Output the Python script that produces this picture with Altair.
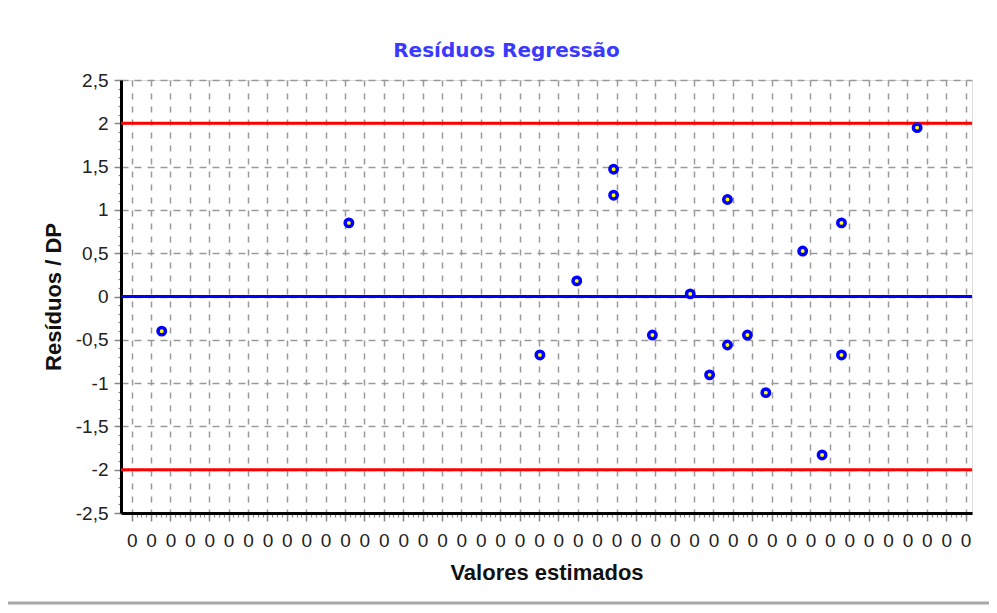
import altair as alt
import pandas as pd

# Data (x in tick-step units, y = residual / SD)
x_vals = [1.55, 11.2, 21.05, 22.95, 24.85, 24.85, 26.85, 28.8, 29.8, 30.72, 30.72, 31.75, 32.7, 34.6, 35.6, 36.6, 36.6, 40.5]
y_vals = [-0.40, 0.85, -0.675, 0.18, 1.47, 1.17, -0.445, 0.03, -0.905, 1.12, -0.56, -0.445, -1.11, 0.525, -1.83, 0.85, -0.675, 1.95]

x_ticks = list(range(44))                       # 44 labels, all shown as "0"
x_minor = [i * 0.25 for i in range(0, 173)]
y_ticks = [-2.5, -2, -1.5, -1, -0.5, 0, 0.5, 1, 1.5, 2, 2.5]
y_minor = [round(-2.5 + i * 0.1, 2) for i in range(51)]
limit_vals = [-2, 2]
zero_vals = [0]

W, H = 851, 433
FONT = "Liberation Sans"

pts = pd.DataFrame({"x": x_vals, "y": y_vals})
limits = pd.DataFrame({"y": limit_vals})
zeros = pd.DataFrame({"y": zero_vals})

xs = alt.Scale(domain=[-0.55, 43.33], nice=False, zero=False)
ys = alt.Scale(domain=[-2.5, 2.5], nice=False, zero=False)

grid_color = "#9a9a9a"

x_axis = alt.Axis(
    values=x_ticks, labelExpr="'0'", grid=True, gridColor=grid_color, gridDash=[6, 7],
    gridWidth=1.5, tickSize=8, tickColor="#888888", tickWidth=1.5, domainColor="#000000",
    domainWidth=3, labelFont=FONT, labelFontSize=19, labelColor="#222222", labelPadding=10,
    title="Valores estimados", titleFont=FONT, titleFontSize=22, titleFontWeight="bold",
    titleColor="#111111", titleY=59, titleBaseline="middle", orient="bottom", labelFlush=False,
    labelOverlap=False,
)
y_axis = alt.Axis(
    values=y_ticks, labelExpr="replace(toString(datum.value), '.', ',')", grid=True,
    gridColor=grid_color, gridDash=[7, 6], gridWidth=1.5, tickSize=7, tickColor="#888888",
    tickWidth=1.5, domainColor="#000000", domainWidth=3, labelFont=FONT, labelFontSize=19,
    labelColor="#222222", labelPadding=6, title="Resíduos / DP", titleFont=FONT,
    titleFontSize=22, titleFontWeight="bold", titleColor="#111111", titleX=-68,
    titleY=H / 2, titleAlign="center", titleBaseline="middle", titleAngle=-90, orient="left",
    labelFlush=False, labelOverlap=False,
)

main_pts = alt.Chart(pts).mark_circle(
    size=55, fill="#ffff00", stroke="#0000ff", strokeWidth=3.5, opacity=1
).encode(
    x=alt.X("x:Q", scale=xs, axis=x_axis),
    y=alt.Y("y:Q", scale=ys, axis=y_axis),
)

minor_ax = alt.Chart(pts).mark_point(opacity=0).encode(
    x=alt.X("x:Q", scale=xs, axis=alt.Axis(values=x_minor, labels=False, grid=False, domain=False,
                                           tickSize=4, tickColor="#888888", tickWidth=1.2,
                                           title=None, orient="bottom")),
    y=alt.Y("y:Q", scale=ys, axis=alt.Axis(values=y_minor, labels=False, grid=False, domain=False,
                                           tickSize=3, tickColor="#888888", tickWidth=1.2,
                                           title=None, orient="left")),
)

red = alt.Chart(limits).mark_rule(color="#ff0000", strokeWidth=3).encode(
    y=alt.Y("y:Q", scale=ys, axis=None)
)
blue = alt.Chart(zeros).mark_rule(color="#0000ff", strokeWidth=3).encode(
    y=alt.Y("y:Q", scale=ys, axis=None)
)

sep = alt.Chart(zeros).mark_rule(color="#a8a8a8", strokeWidth=3).encode(
    x=alt.value(-113), x2=alt.value(W + 17), y=alt.value(H + 90)
)

chart = alt.layer(minor_ax, red, blue, main_pts, sep).resolve_axis(
    x="independent", y="independent"
).properties(
    width=W, height=H,
    title=alt.TitleParams("Resíduos Regressão", color="#3a3aff", fontSize=20, font="DejaVu Sans",
                          fontWeight="bold", dx=-40, offset=10, anchor="middle"),
    autosize=alt.AutoSizeParams(type="none"),
    padding={"left": 113, "top": 72, "right": 17, "bottom": 92},
).configure_view(stroke="#444444", strokeWidth=2).configure(background="#ffffff")

chart.save("out.html", embed_options={"renderer": "svg", "actions": False})
